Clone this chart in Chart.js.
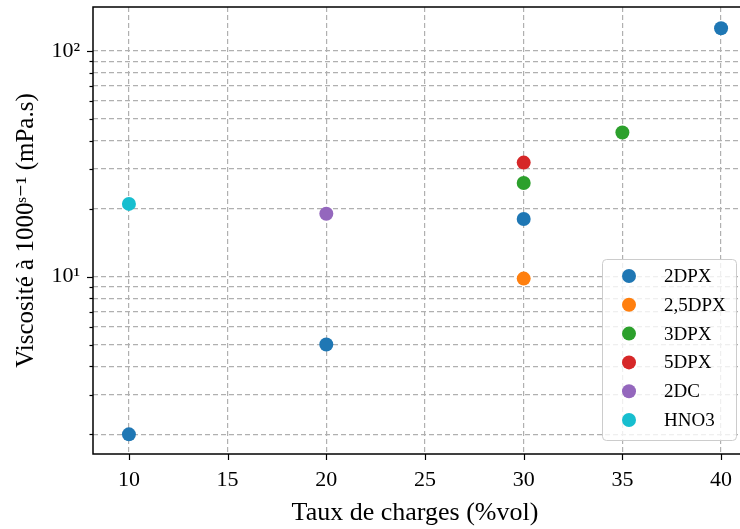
<!DOCTYPE html>
<html><head><meta charset="utf-8">
<script src="https://cdn.jsdelivr.net/npm/chart.js@4"></script>
<style>html,body{margin:0;padding:0;background:#fff;overflow:hidden;width:740px;height:529px}
#wrap{position:relative;width:764px;height:529px}</style></head>
<body><div id="wrap"><canvas id="c" width="764" height="529"></canvas></div>
<script>
// ---- data ----
const seriesNames = ['2DPX', '2,5DPX', '3DPX', '5DPX', '2DC', 'HNO3'];
const seriesColors = ['#1f77b4', '#ff7f0e', '#2ca02c', '#d62728', '#9467bd', '#17becf'];
const x2DPX = [10, 20, 30, 40];
const y2DPX = [2.0, 5.0, 18.0, 126];
const x25DPX = [30];
const y25DPX = [9.8];
const x3DPX = [30, 35];
const y3DPX = [26, 43.5];
const x5DPX = [30];
const y5DPX = [32];
const x2DC = [20];
const y2DC = [19];
const xHNO3 = [10];
const yHNO3 = [21];
const xTickValues = [10, 15, 20, 25, 30, 35, 40];
const yTickValues = [2, 3, 4, 5, 6, 7, 8, 9, 10, 20, 30, 40, 50, 60, 70, 80, 90, 100];
const yTickLabels = {10: '10\u00B9', 100: '10\u00B2'};
const xTitle = 'Taux de charges (%vol)';
const yTitle = 'Viscosit\u00E9 \u00E0 1000\u02E2\u207B\u00B9 (mPa.s)';

const xs = [x2DPX, x25DPX, x3DPX, x5DPX, x2DC, xHNO3];
const ys = [y2DPX, y25DPX, y3DPX, y5DPX, y2DC, yHNO3];
const datasets = seriesNames.map((n, i) => ({
  label: n,
  data: xs[i].map((x, j) => ({x: x, y: ys[i][j]})),
  backgroundColor: seriesColors[i],
  borderColor: seriesColors[i],
  borderWidth: 0,
  pointRadius: 7,
  pointHoverRadius: 7
}));

const SERIF = '"Liberation Serif", "DejaVu Serif", serif';

const decor = {
  id: 'decor',
  afterDraw(chart) {
    const ctx = chart.ctx, a = chart.chartArea;
    const sx = chart.scales.x, sy = chart.scales.y;
    ctx.save();
    ctx.strokeStyle = '#000';
    ctx.lineWidth = 1.2;
    sx.ticks.forEach(t => {
      const p = Math.round(sx.getPixelForValue(t.value)) + 0.5;
      ctx.beginPath(); ctx.moveTo(p, a.bottom); ctx.lineTo(p, a.bottom + 6); ctx.stroke();
    });
    sy.ticks.forEach(t => {
      const p = Math.round(sy.getPixelForValue(t.value)) + 0.5;
      const len = yTickLabels[t.value] ? 6 : 3.5;
      ctx.beginPath(); ctx.moveTo(a.left - len, p); ctx.lineTo(a.left, p); ctx.stroke();
    });
    ctx.lineWidth = 1.5;
    ctx.strokeRect(a.left, a.top, a.right - a.left, a.bottom - a.top);
    // x axis title
    ctx.fillStyle = '#000';
    ctx.font = '26px ' + SERIF;
    ctx.textAlign = 'center';
    ctx.textBaseline = 'middle';
    ctx.fillText(xTitle, a.left + 322, a.bottom + 59);
    // legend
    const bx = a.left + 509, by = a.bottom - 195, bw = 134, bh = 181;
    ctx.beginPath();
    ctx.roundRect(bx + 0.5, by + 0.5, bw, bh, 4);
    ctx.fillStyle = 'rgba(255,255,255,0.8)';
    ctx.fill();
    ctx.strokeStyle = '#cccccc';
    ctx.lineWidth = 1;
    ctx.stroke();
    ctx.font = '19px ' + SERIF;
    ctx.textBaseline = 'middle';
    ctx.textAlign = 'left';
    chart.data.datasets.forEach((d, i) => {
      const cy = by + 17 + i * 28.8;
      ctx.beginPath();
      ctx.arc(bx + 27, cy, 7, 0, Math.PI * 2);
      ctx.fillStyle = d.backgroundColor;
      ctx.fill();
      ctx.fillStyle = '#000';
      ctx.fillText(d.label, bx + 62, cy + 1);
    });
    ctx.restore();
  }
};

new Chart(document.getElementById('c'), {
  type: 'scatter',
  data: {datasets},
  plugins: [decor],
  options: {
    responsive: false,
    animation: false,
    devicePixelRatio: 1,
    layout: {padding: {top: 6, right: 3, left: 0, bottom: 0}},
    plugins: {legend: {display: false}, tooltip: {enabled: false}},
    scales: {
      x: {
        type: 'linear',
        min: 8.18, max: 41.82,
        z: 1,
        afterBuildTicks: s => { s.ticks = xTickValues.map(v => ({value: v})); },
        afterFit: s => { s.height = 75; s.paddingLeft = 0; s.paddingRight = 0; },
        ticks: {autoSkip: false, maxRotation: 0, color: '#000', padding: 13,
          font: {family: SERIF, size: 22}},
        grid: {color: '#b0b0b0', lineWidth: 1.2, drawTicks: false},
        border: {display: false, dash: [5, 3]},
        title: {display: false}
      },
      y: {
        type: 'logarithmic',
        min: 1.637, max: 156.5,
        z: 1,
        afterBuildTicks: s => { s.ticks = yTickValues.map(v => ({value: v, major: !!yTickLabels[v]})); },
        afterFit: s => { s.width = 93; s.paddingTop = 0; s.paddingBottom = 0; },
        ticks: {autoSkip: false, color: '#000', padding: 13,
          font: {family: SERIF, size: 22},
          callback: v => yTickLabels[v] || ''},
        grid: {color: '#b0b0b0', lineWidth: 1.2, drawTicks: false},
        border: {display: false, dash: [5, 3]},
        title: {display: true, text: yTitle, color: '#000',
          font: {family: SERIF, size: 25}, padding: {top: 11, bottom: 0}}
      }
    }
  }
});
</script></body></html>
